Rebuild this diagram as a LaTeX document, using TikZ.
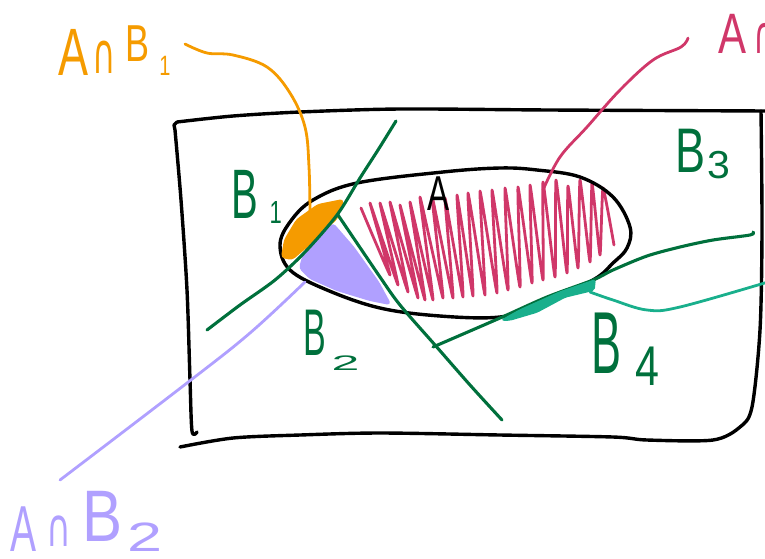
\documentclass[tikz,border=0pt]{standalone}
\usepackage{graphicx}
\usepackage{fontspec}
\setmainfont{Liberation Sans}
\newfontfamily\hand{Liberation Sans}
\newfontfamily\capf{DejaVu Sans}
\definecolor{cGreen}{RGB}{0,112,60}
\definecolor{cOrange}{RGB}{245,155,0}
\definecolor{cPurple}{RGB}{176,160,255}
\definecolor{cPink}{RGB}{208,55,105}
\definecolor{cTeal}{RGB}{25,175,140}
\newcommand{\hwg}[3]{\scalebox{#1}[#2]{\hand\fontsize{10}{10}\selectfont #3}}
\newcommand{\hcap}[2]{\scalebox{#1}[#2]{\capf\fontsize{10}{10}\selectfont ∩}}
\begin{document}
\begin{tikzpicture}[x=1pt,y=-1pt,line cap=round,line join=round,
  pen/.style={line width=3.4pt},
  gline/.style={line width=3.1pt,draw=cGreen},
  lead/.style={line width=2.8pt},
  lab/.style={inner sep=0pt,outer sep=0pt,anchor=base west}]
\useasboundingbox (0,0) rectangle (765,558);
\clip (0,0) rectangle (765,558);

% outer frame
\draw[pen] plot[smooth,tension=0.5] coordinates {(197,432)(192,431)(190,380)(187,290)(181,200)(175,130)}
  -- (174,125) -- (177,122)
  plot[smooth,tension=0.5] coordinates {(177,122)(233,116)(300,112)(400,109)(550,110)(768,111)};
\draw[pen] plot[smooth,tension=0.5] coordinates {(761,111)(762,230)(760,330)(752,407)(740,427)(713,440)(647,440)(613,437)(500,435)(380,433)(300,435)(233,438)(180,447)};

% hatching of A
\draw[line width=2.8pt,draw=cPink] plot[smooth,tension=0.25] coordinates {(361,208) (390,275) (370,203) (398,285) (380,203) (408,292)
  (390,202) (418,298) (400,205) (425,300) (410,202) (433,300) (420,197) (443,298)
  (432,196) (453,298) (445,198) (463,297) (457,195) (473,296) (468,193) (485,295)
  (480,191) (497,293) (492,190) (508,290) (505,188) (520,287) (518,187) (532,283)
  (530,185) (543,280) (543,182) (555,277) (556,180) (567,273) (568,186) (578,268)
  (580,180) (590,262) (592,183) (600,255) (603,188) (614,245)};

% set A
\draw[pen] plot[smooth cycle,tension=0.6] coordinates {(280,245)(290,222)(313,200)(357,183)(443,172)(500,168)(537,170)(580,177)(613,197)(630,227)(627,248)(613,263)(593,280)(540,305)(500,317)(440,316)(380,308)(327,290)(290,270)};

% intersections
\fill[cOrange,draw=cOrange,line width=2pt,rounded corners=3pt] (343,200) -- (318,205) -- (297,220) -- (285,240) -- (282,257) -- (292,259) -- (312,242) -- (337,218) -- cycle;
\fill[cPurple,draw=cPurple,line width=2pt,rounded corners=3pt] (333,224) -- (303,257) -- (300,268) -- (310,278) -- (337,290) -- (370,300) -- (390,304) -- (378,282) -- (353,247) -- cycle;

% partition lines
\draw[gline] plot[smooth,tension=0.5] coordinates {(396,121)(378,150)(360,178)(337,215)(305,252)(275,280)(240,305)(207,330)};
\draw[gline] plot[smooth,tension=0.5] coordinates {(338,215)(380,277)(400,305)(435,345)(470,385)(502,420)};
\draw[gline] plot[smooth,tension=0.5] coordinates {(433,347)(500,318)(547,297)(593,280)(613,270)(647,256)(680,247)(713,240)(750,235)(753,232)};

\fill[cTeal,draw=cTeal,line width=1.5pt,rounded corners=2pt] (502,320) -- (520,310) -- (560,292) -- (595,280) -- (594,290) -- (565,297) -- (537,312) -- (510,320) -- cycle;

% labels
\node[lab,text=black] (lA) at (427,210) {\hwg{3.3}{4.9}{A}};
\node[lab,text=cGreen] (lB1) at (231,218) {\hwg{4.0}{7.0}{B}\hspace{12pt}\raisebox{-5pt}{\hwg{2.2}{3.2}{1}}};
\node[lab,text=cGreen] (lB2) at (303,355) {\hwg{3.4}{6.6}{B}\hspace{6pt}\raisebox{-15pt}{\hwg{5.0}{2.1}{2}}};
\node[lab,text=cGreen] (lB3) at (675,172) {\hwg{4.5}{6.3}{B}\hspace{2pt}\raisebox{-6pt}{\hwg{4.1}{3.9}{3}}};
\node[lab,text=cGreen] (lB4) at (591,373) {\hwg{4.5}{8.8}{B}\hspace{14pt}\raisebox{-12pt}{\hwg{4.3}{5.6}{4}}};

\node[lab,text=cOrange] (lAB1) at (58,75) {\hwg{4.5}{6.7}{A}\hspace{4pt}\raisebox{2pt}{\hcap{3.2}{5.6}}\hspace{10pt}\raisebox{14pt}{\hwg{3.6}{5.2}{B}}\hspace{10pt}\hwg{2.0}{2.8}{1}};
\node[lab,text=cPurple] (lAB2) at (10,551) {\hwg{3.9}{6.5}{A}\hspace{10pt}\raisebox{5pt}{\hcap{3.4}{5.3}}\hspace{12pt}\raisebox{10pt}{\hwg{6.0}{7.3}{B}}\hspace{5pt}\hwg{6.3}{4.1}{2}};
\node[lab,text=cPink] (lAB) at (718,53) {\hwg{4.2}{5.7}{A}\hspace{7pt}\hcap{3.2}{5.2}};

% leader lines
\coordinate (o0) at (185,44);
\coordinate (o1) at (310,213);
\draw[lead,cOrange] plot[smooth,tension=0.6] coordinates {(o0)(207,53)(233,55)(267,67)(290,93)(305,127)(309,167)(o1)};
\coordinate (p0) at (60,480);
\coordinate (p1) at (305,282);
\draw[lead,cPurple] plot[smooth,tension=0.6] coordinates {(p0)(187,383)(250,333)(p1)};
\coordinate (k0) at (688,38);
\coordinate (k1) at (543,190);
\draw[lead,cPink] plot[smooth,tension=0.6] coordinates {(k0)(681,47)(653,60)(620,90)(587,127)(560,157)(k1)};
\coordinate (t0) at (590,292);
\coordinate (t1) at (768,282);
\draw[lead,cTeal] plot[smooth,tension=0.6] coordinates {(t0)(613,300)(647,310)(680,307)(t1)};
\end{tikzpicture}
\end{document}
